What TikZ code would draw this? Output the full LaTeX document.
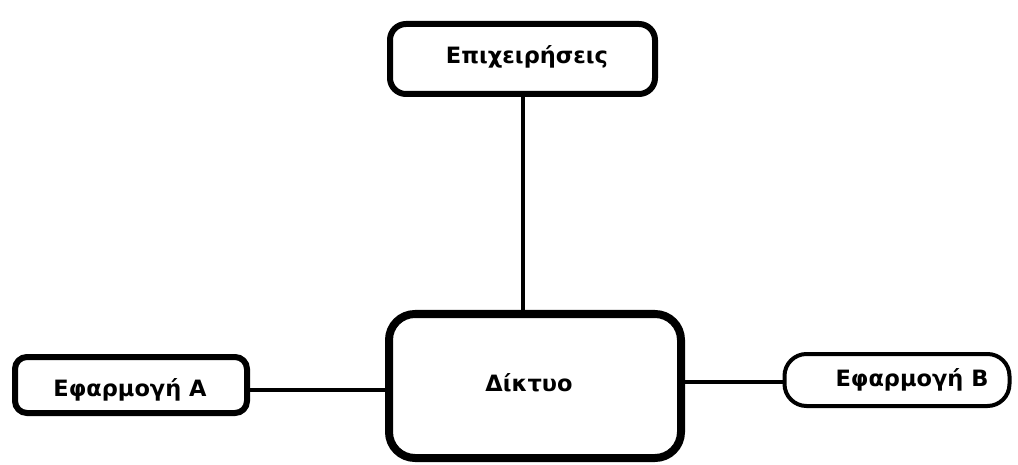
\documentclass[tikz,border=0pt]{standalone}
\usepackage{fontspec}
\setmainfont{DejaVu Sans}
\begin{document}
\begin{tikzpicture}[x=1pt,y=-1pt,
  box/.style={draw=black,fill=white,rounded corners=#1,outer sep=0pt,inner sep=0pt},
  label/.style={font=\bfseries\fontsize{22.5}{26}\selectfont,inner sep=0pt},
  link/.style={draw=black,line width=4pt}]
\useasboundingbox[fill=white] (0,0) rectangle (1018,465);
% network hub
\node[box=26pt,line width=8pt,minimum width=292pt,minimum height=144pt] (net) at (535,386) {};
\node[label] (netlabel) at (529,383) {Δίκτυο};
% businesses
\node[box=16pt,line width=6pt,minimum width=265pt,minimum height=70pt] (biz) at (522.5,59) {};
\node[label] (bizlabel) at (527,57) {Επιχειρήσεις};
% application A
\node[box=12pt,line width=6pt,minimum width=232pt,minimum height=56pt] (appa) at (131,385) {};
\node[label] (appalabel) at (130,390) {Εφαρμογή A};
% application B
\node[box=22pt,line width=4pt,minimum width=225pt,minimum height=52pt] (appb) at (897,380) {};
\node[label] (appblabel) at (912,380) {Εφαρμογή B};
% connectors
\coordinate (vtop) at (523,97);
\draw[link] (vtop) -- (vtop |- net.north);
\coordinate (lft) at (247,390);
\draw[link] (lft) -- (lft -| net.west);
\coordinate (rgt) at (685,382);
\draw[link] (rgt) -- (rgt -| appb.west);
\end{tikzpicture}
\end{document}
